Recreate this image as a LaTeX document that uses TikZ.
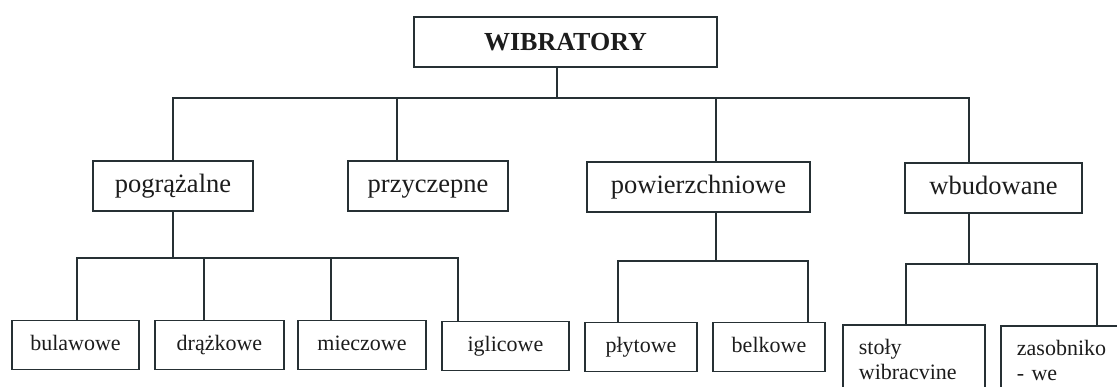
\documentclass[tikz,border=0pt]{standalone}
\usepackage{fontspec}
\setmainfont{Liberation Serif}
\definecolor{ink}{RGB}{38,48,52}
\definecolor{txt}{RGB}{28,28,28}
\begin{document}
\begin{tikzpicture}[x=1pt,y=-1pt,
  box/.style={draw=ink, line width=1.8pt, inner sep=0pt, text=txt},
  lvltwo/.style={box, minimum height=50pt, text height=16.4pt, text depth=3.2pt, font=\fontsize{26.5}{30}\selectfont},
  leaf/.style={box, minimum height=49pt, text height=13.6pt, text depth=2.6pt, font=\fontsize{22}{25}\selectfont},
  tall/.style={box, anchor=north west, align=left, text width=110pt, inner ysep=14pt, font=\fontsize{22}{25}\selectfont},
  wire/.style={draw=ink, line width=1.8pt}]
\useasboundingbox (0,0) rectangle (1117,387);
\fill[white] (0,0) rectangle (1117,387);
\clip (0,0) rectangle (1117,387);

% root
\node[box, minimum width=303pt, minimum height=50pt, text height=18.2pt, text depth=1.3pt, font=\fontsize{26}{30}\selectfont\bfseries] (root) at (565.5,42) {WIBRATORY};

% level 2
\node[lvltwo, minimum width=160pt] (pog) at (173,186) {pogrążalne};
\node[lvltwo, minimum width=160pt] (prz) at (428,186) {przyczepne};
\node[lvltwo, minimum width=223pt] (pow) at (698.5,187) {powierzchniowe};
\node[lvltwo, minimum width=177pt] (wbu) at (993.5,188) {wbudowane};

% leaves
\node[leaf, minimum width=127pt] (bul) at (75.5,345) {bulawowe};
\node[leaf, minimum width=129pt] (dra) at (219.5,345) {drążkowe};
\node[leaf, minimum width=128pt] (mie) at (362,345) {mieczowe};
\node[leaf, minimum width=127pt] (igl) at (505.5,346) {iglicowe};
\node[leaf, minimum width=112pt] (ply) at (641,347) {płytowe};
\node[leaf, minimum width=112pt] (bel) at (769,347) {belkowe};
\node[tall, inner xsep=16pt] (sto) at (842,324) {stoły\\wibracvine};
\node[tall, inner xsep=16pt] (zas) at (1000,325) {zasobniko\\- we};

% top connectors
\coordinate (j0) at (557,98);
\coordinate (dPrz) at (397,98);
\coordinate (dPow) at (716,98);
\coordinate (dWbu) at (969,98);
\draw[wire] (j0 |- root.south) -- (j0);
\draw[wire] (pog.north) |- (dWbu) -- (dWbu |- wbu.north);
\draw[wire] (dPrz) -- (dPrz |- prz.north);
\draw[wire] (dPow) -- (dPow |- pow.north);

% pograzalne group
\coordinate (dBul) at (77,258);
\coordinate (dDra) at (204,258);
\coordinate (dMie) at (331,258);
\coordinate (dIgl) at (458,258);
\draw[wire] (pog.south) -- (pog.south |- dBul);
\draw[wire] (dBul |- bul.north) -- (dBul) -- (dIgl) -- (dIgl |- igl.north);
\draw[wire] (dDra) -- (dDra |- dra.north);
\draw[wire] (dMie) -- (dMie |- mie.north);

% powierzchniowe group
\coordinate (pj) at (716,261);
\coordinate (dPly) at (618,261);
\coordinate (dBel) at (808,261);
\draw[wire] (pj |- pow.south) -- (pj);
\draw[wire] (dPly |- ply.north) -- (dPly) -- (dBel) -- (dBel |- bel.north);

% wbudowane group
\coordinate (wj) at (969,264);
\coordinate (dSto) at (906,264);
\coordinate (dZas) at (1097,264);
\draw[wire] (wj |- wbu.south) -- (wj);
\draw[wire] (dSto |- sto.north) -- (dSto) -- (dZas) -- (dZas |- zas.north);
\end{tikzpicture}
\end{document}
